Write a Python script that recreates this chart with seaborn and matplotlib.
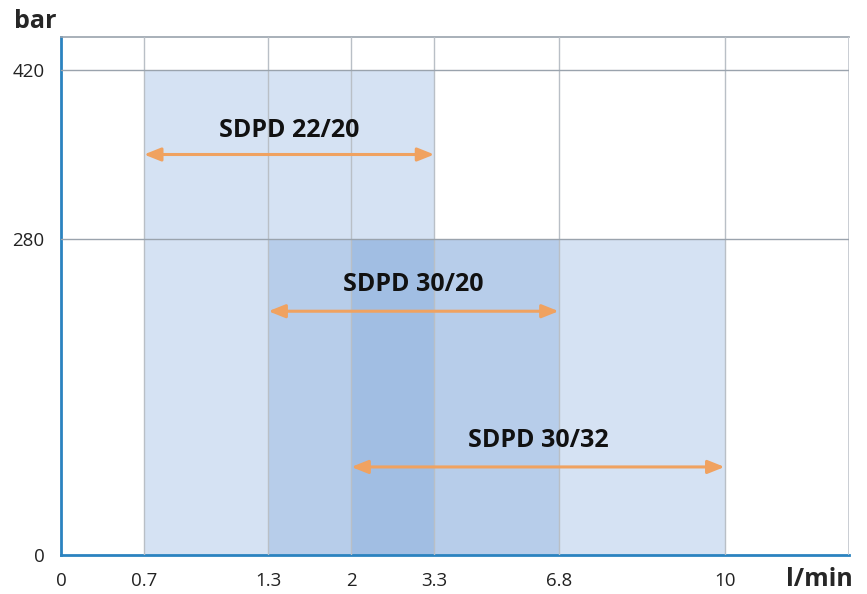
import numpy as np
import pandas as pd
import seaborn as sns
import matplotlib.pyplot as plt

# pump ranges: flow (l/min) and max pressure (bar)
models = ["SDPD 22/20", "SDPD 30/20", "SDPD 30/32"]
flow_min = [0.7, 1.3, 2.0]
flow_max = [3.3, 6.8, 10.0]
pressure = [420, 280, 280]
arrow_bar = [350, 216, 78]
label_bar = [370, 240, 101]

x_ticks = [0, 0.7, 1.3, 2, 3.3, 6.8, 10]
x_tick_labels = ["0", "0.7", "1.3", "2", "3.3", "6.8", "10"]
y_ticks = [0, 280, 420]

# neither axis is linear: ticks sit at these slots
x_slots = [0, 1, 2.5, 3.5, 4.5, 6, 8]
y_slots = [0, 316, 485]


def xmap(v):
    return np.interp(v, x_ticks, x_slots)


def ymap(v):
    return np.interp(v, y_ticks, y_slots)


df = pd.DataFrame({"model": models, "lo": flow_min, "hi": flow_max,
                   "p": pressure, "arrow": arrow_bar, "label": label_bar})

sns.set_style("white")
plt.rcParams["font.family"] = ["Open Sans", "DejaVu Sans"]

fig = plt.figure(figsize=(8.67, 5.94), dpi=100)
ax = fig.add_axes([0.0704, 0.0657, 0.9088, 0.872])

grid_c = "#9aa3ad"
for s in x_slots[1:]:
    ax.axvline(s, color="#b9bfc6", lw=1.0, zorder=3)
ax.axvline(9.5, color="#c4c9cf", lw=2.0, zorder=3)
for t in y_slots[1:]:
    ax.axhline(t, color=grid_c, lw=1.0, zorder=3)

for _, r in df.iterrows():
    x0, x1 = xmap(r.lo), xmap(r.hi)
    ax.bar(x0, ymap(r.p), width=x1 - x0, align="edge", color="#6797d3",
           alpha=0.27, lw=0, zorder=1)
    ya = ymap(r.arrow)
    ax.annotate("", xy=(x1, ya), xytext=(x0, ya),
                arrowprops=dict(arrowstyle="<|-|>,head_length=1.0,head_width=0.4",
                                color="#f0a260", lw=2.2, shrinkA=0, shrinkB=0),
                zorder=5)
    ax.text((x0 + x1) / 2, ymap(r.label), r.model, ha="center", va="center",
            fontsize=18, fontweight="bold", color="#111111", zorder=6)

ax.set_xlim(0, 9.5)
ax.set_ylim(0, 518)
ax.set_xticks(x_slots)
ax.set_xticklabels(x_tick_labels)
ax.set_yticks(y_slots)
ax.set_yticklabels([str(t) for t in y_ticks])
ax.tick_params(axis="both", labelsize=13.5, colors="#222222")
ax.tick_params(axis="x", direction="out", length=6, width=1, color="#666666", pad=6)
ax.tick_params(axis="y", direction="inout", length=12, width=1, color="#333333", pad=6)

for side in ["left", "bottom"]:
    ax.spines[side].set_color("#2b83c0")
    ax.spines[side].set_linewidth(2)
ax.spines["top"].set_color(grid_c)
ax.spines["top"].set_linewidth(1.2)
ax.spines["right"].set_visible(False)

fig.text(14 / 867, 1 - 22 / 594, "bar", fontsize=18, fontweight="bold",
         ha="left", va="center")
fig.text(853 / 867, 1 - 580 / 594, "l/min", fontsize=18, fontweight="bold",
         ha="right", va="center")

fig.savefig("out.png", dpi=100)
